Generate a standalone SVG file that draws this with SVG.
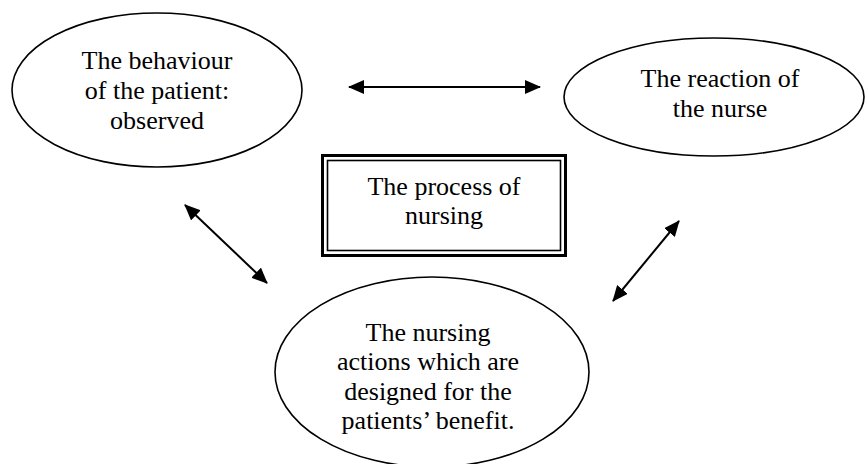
<svg xmlns="http://www.w3.org/2000/svg" width="866" height="464" viewBox="0 0 866 464">
  <style>
    .node ellipse { fill: #fff; stroke: #000; stroke-width: 1.6; }
    .label { font-family: "Liberation Serif", "Times New Roman", serif; font-size: 26px; fill: #000; text-anchor: middle; }
    .conn { stroke: #000; stroke-width: 2; fill: none; marker-start: url(#head); marker-end: url(#head); }
  </style>
  <defs>
    <marker id="head" viewBox="0 0 16 14" refX="15" refY="7" markerWidth="16" markerHeight="14" markerUnits="userSpaceOnUse" orient="auto-start-reverse">
      <path d="M0,0 L16,7 L0,14 Z" fill="#000"/>
    </marker>
  </defs>
  <rect width="866" height="464" fill="#fff"/>

  <!-- observed behaviour -->
  <g id="behaviour" class="node">
    <ellipse cx="157" cy="90" rx="145" ry="77"/>
    <text class="label" x="157" y="69">The behaviour</text>
    <text class="label" x="157" y="99">of the patient:</text>
    <text class="label" x="157" y="129">observed</text>
  </g>

  <!-- nurse's reaction -->
  <g id="reaction" class="node">
    <ellipse cx="714" cy="97" rx="150" ry="59"/>
    <text class="label" x="720" y="87">The reaction of</text>
    <text class="label" x="720" y="117">the nurse</text>
  </g>

  <!-- central box with thick-thin double border -->
  <g id="process">
    <rect x="322.5" y="155.5" width="243" height="100" fill="#fff" stroke="#000" stroke-width="3"/>
    <rect x="327.5" y="160.5" width="233" height="90" fill="none" stroke="#000" stroke-width="1.6"/>
    <text class="label" x="444" y="195">The process of</text>
    <text class="label" x="444" y="224">nursing</text>
  </g>

  <!-- nursing actions -->
  <g id="actions" class="node">
    <ellipse cx="432" cy="372" rx="157" ry="95"/>
    <text class="label" x="428" y="341">The nursing</text>
    <text class="label" x="428" y="370">actions which are</text>
    <text class="label" x="428" y="400">designed for the</text>
    <text class="label" x="428" y="429">patients’ benefit.</text>
  </g>

  <g id="connectors">
    <line class="conn" x1="349" y1="87" x2="540" y2="87"/>
    <line class="conn" x1="185" y1="205" x2="267" y2="283"/>
    <line class="conn" x1="679" y1="221" x2="613" y2="301"/>
  </g>
</svg>
